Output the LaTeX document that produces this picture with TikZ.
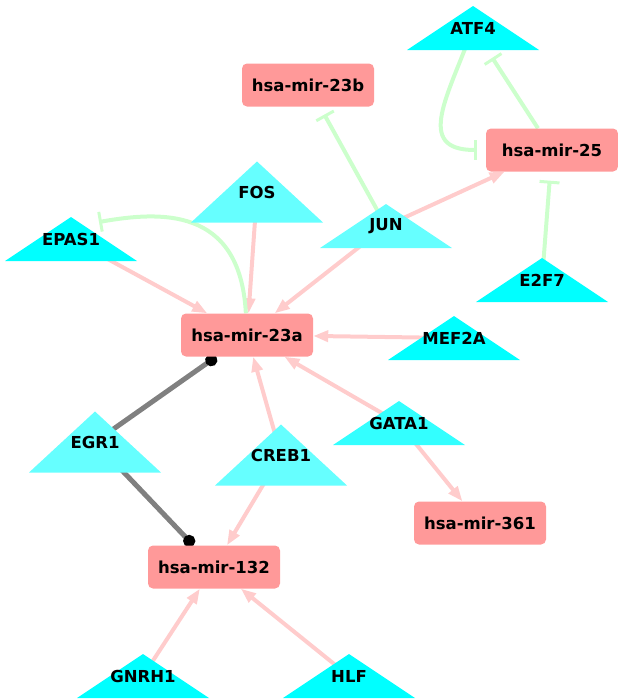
\documentclass[tikz,border=0pt]{standalone}
\usepackage{fontspec}
\setmainfont{DejaVu Sans}
\usetikzlibrary{arrows.meta, backgrounds}
\definecolor{mirfill}{HTML}{FF9999}
\definecolor{tfcyan}{HTML}{00FFFF}
\definecolor{tflight}{HTML}{66FFFF}
\definecolor{tfmid}{HTML}{33FFFF}
\definecolor{actpink}{HTML}{FFCCCC}
\definecolor{inhgreen}{HTML}{CCFFCC}

\begin{document}
\begin{tikzpicture}
            [x=1pt, y=1pt, every node/.style={font=\fontsize{16.5}{20}\selectfont\bfseries, inner sep=0, minimum width=132pt},
             mir/.style={fill=mirfill, rounded corners=5pt, minimum height=43pt},
             tf/.style={minimum height=44pt, path picture={\fill[#1] (path picture bounding box.south west) -- (path picture bounding box.south east) -- (path picture bounding box.north) -- cycle;}},
             tf/.default=tfcyan, tall/.style={minimum height=61pt},
             act/.style={draw=actpink, line width=4pt, -{Triangle[length=15pt, width=11pt]}},
             inh/.style={draw=inhgreen, line width=4pt, -{Bar[width=20pt, line width=3pt]}, shorten >=9pt},
             bind/.style={draw=gray, line width=5pt, -{Circle[color=black, length=12pt]}}]

            \useasboundingbox (0, 0) rectangle (618, -699);

            \node[tf] (atf4) at (473, -28) {ATF4};
            \node[mir] (m23b) at (308, -85) {hsa-mir-23b};
            \node[mir] (m25) at (552, -150) {hsa-mir-25};
            \node[tf=tflight, tall] (fos) at (257, -192) {FOS};
            \node[tf=tflight] (jun) at (386, -226) {JUN};
            \node[tf] (epas1) at (71, -239) {EPAS1};
            \node[tf] (e2f7) at (542, -280) {E2F7};
            \node[mir] (m23a) at (247, -335) {hsa-mir-23a};
            \node[tf] (mef2a) at (454, -338) {MEF2A};
            \node[tf=tfmid] (gata1) at (399, -423) {GATA1};
            \node[tf=tflight, tall] (egr1) at (95, -442) {EGR1};
            \node[tf=tflight, tall] (creb1) at (281, -455) {CREB1};
            \node[mir] (m361) at (480, -523) {hsa-mir-361};
            \node[mir] (m132) at (214, -567) {hsa-mir-132};
            \node[tf] (gnrh1) at (143, -676) {GNRH1};
            \node[tf] (hlf) at (349, -676) {HLF};

            \begin{pgfonlayer}{background}
            \draw[act] (epas1.center) -- (m23a);
            \draw[act] (fos.center) -- (m23a);
            \draw[act] (jun.center) -- (m23a);
            \draw[act] (jun.center) -- (m25);
            \draw[act] (mef2a.center) -- (m23a);
            \draw[act] (gata1.center) -- (m23a);
            \draw[act] (gata1.center) -- (m361);
            \draw[act] (creb1.center) -- (m23a);
            \draw[act] (creb1.center) -- (m132);
            \draw[act] (gnrh1.center) -- (m132);
            \draw[act] (hlf.center) -- (m132);
            \draw[inh] (jun.center) -- (m23b);
            \draw[inh] (e2f7.center) -- (m25);
            \draw[inh] (m25) -- (atf4);
            \draw[inh] (atf4.center) to[out=-110, in=180, looseness=1.5] (m25);
            \draw[inh, shorten >=0pt] (m23a) to[out=93, in=10, out looseness=1.6, in looseness=0.9] ([shift={(28,17)}]epas1.center);
            \draw[bind] (egr1.center) -- (m23a);
            \draw[bind] (egr1.center) -- (m132);
            \end{pgfonlayer}
          \end{tikzpicture}
\end{document}
